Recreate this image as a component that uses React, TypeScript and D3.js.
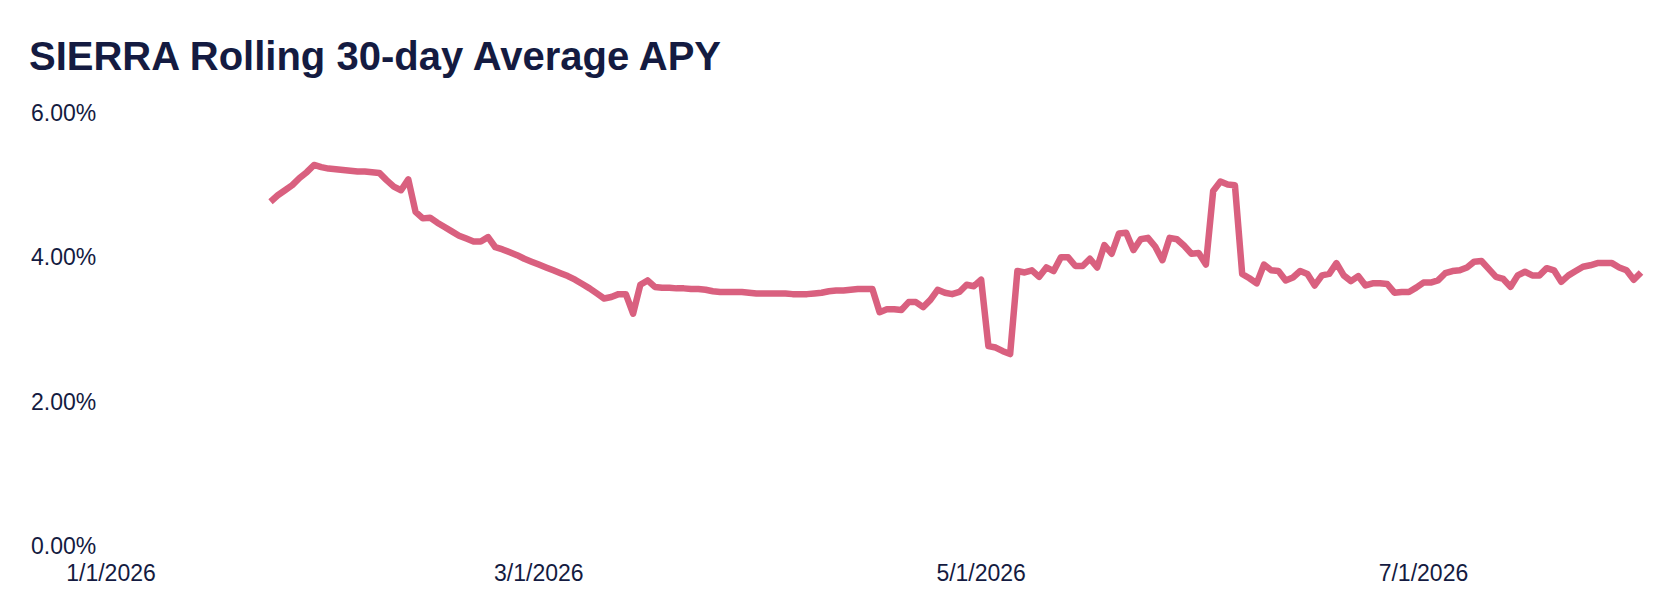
import * as React from 'react';
import * as d3 from 'd3';

// daily rolling 30-day APY (%), one array per month
const startDate = '2026-01-23';
const janApy = [4.77, 4.86, 4.93, 5.0, 5.1, 5.18, 5.28, 5.25, 5.23];
const febApy = [
  5.22, 5.21, 5.2, 5.19, 5.19, 5.18, 5.17, 5.07, 4.98, 4.93, 5.08, 4.63, 4.54, 4.55,
  4.48, 4.42, 4.36, 4.3, 4.26, 4.22, 4.22, 4.28, 4.14, 4.11, 4.07, 4.03, 3.98, 3.94,
];
const marApy = [
  3.9, 3.86, 3.82, 3.78, 3.74, 3.69, 3.63, 3.57, 3.5, 3.43, 3.45, 3.49, 3.49, 3.22,
  3.62, 3.68, 3.59, 3.58, 3.58, 3.57, 3.57, 3.56, 3.56, 3.55, 3.53, 3.52, 3.52, 3.52,
  3.52, 3.51, 3.5,
];
const aprApy = [
  3.5, 3.5, 3.5, 3.5, 3.49, 3.49, 3.49, 3.5, 3.51, 3.53, 3.54, 3.54, 3.55, 3.56, 3.56,
  3.56, 3.24, 3.28, 3.28, 3.27, 3.38, 3.38, 3.31, 3.41, 3.55, 3.51, 3.49, 3.52, 3.62,
  3.6,
];
const mayApy = [
  3.69, 2.77, 2.75, 2.7, 2.66, 3.81, 3.79, 3.82, 3.73, 3.86, 3.81, 4.0, 4.0, 3.88,
  3.88, 3.98, 3.86, 4.17, 4.05, 4.33, 4.34, 4.1, 4.25, 4.27, 4.15, 3.96, 4.27, 4.25,
  4.16, 4.05, 4.06,
];
const junApy = [
  3.9, 4.92, 5.05, 5.01, 5.0, 3.77, 3.71, 3.64, 3.9, 3.82, 3.81, 3.68, 3.72, 3.81,
  3.77, 3.61, 3.75, 3.77, 3.92, 3.75, 3.67, 3.74, 3.61, 3.64, 3.64, 3.63, 3.51, 3.52,
  3.52, 3.58,
];
const julApy = [
  3.65, 3.65, 3.68, 3.78, 3.81, 3.82, 3.86, 3.94, 3.95, 3.84, 3.73, 3.7, 3.59, 3.75,
  3.8, 3.75, 3.75, 3.85, 3.82, 3.66, 3.75, 3.81, 3.87, 3.89, 3.92, 3.92, 3.92, 3.86,
  3.82, 3.69, 3.79,
];

const yTicks = [0, 2, 4, 6];
const xDomain = ['2026-01-01', '2026-07-31'];

const WIDTH = 1674;
const HEIGHT = 616;
const INK = '#141b41';
const LINE = '#d9607f';
const FONT = '"Liberation Sans", Arial, sans-serif';

export default function App() {
  const values = [...janApy, ...febApy, ...marApy, ...aprApy, ...mayApy, ...junApy, ...julApy];
  const t0 = new Date(startDate + 'T00:00:00Z');
  const data = values.map((v, i) => ({ date: d3.utcDay.offset(t0, i), value: v }));

  const x = d3
    .scaleUtc()
    .domain(xDomain.map((s) => new Date(s + 'T00:00:00Z')))
    .range([111, 1641]);
  const y = d3.scaleLinear().domain([0, 6]).range([546, 113]);

  const line = d3
    .line<{ date: Date; value: number }>()
    .x((d) => x(d.date))
    .y((d) => y(d.value));

  const xTicks = x.ticks(d3.utcMonth.every(2) as d3.TimeInterval);
  const fmtDate = d3.utcFormat('%-m/%-d/%Y');
  const fmtPct = (v: number) => d3.format('.2f')(v) + '%';

  return (
    <div style={{ position: 'absolute', left: 0, top: 0 }}>
      <svg width={WIDTH} height={HEIGHT} style={{ display: 'block', background: '#fff' }}>
        <text x={29} y={70} fill={INK} fontFamily={FONT} fontWeight="bold" fontSize={40}>
          SIERRA Rolling 30-day Average APY
        </text>
        {yTicks.map((t) => (
          <text
            key={t}
            x={31}
            y={y(t)}
            dy="0.35em"
            fill={INK}
            fontFamily={FONT}
            fontSize={23}
          >
            {fmtPct(t)}
          </text>
        ))}
        {xTicks.map((t) => (
          <text
            key={t.toISOString()}
            x={x(t)}
            y={581}
            textAnchor="middle"
            fill={INK}
            fontFamily={FONT}
            fontSize={23}
          >
            {fmtDate(t)}
          </text>
        ))}
        <path
          d={line(data) ?? ''}
          fill="none"
          stroke={LINE}
          strokeWidth={6.5}
          strokeLinejoin="round"
        />
      </svg>
    </div>
  );
}
